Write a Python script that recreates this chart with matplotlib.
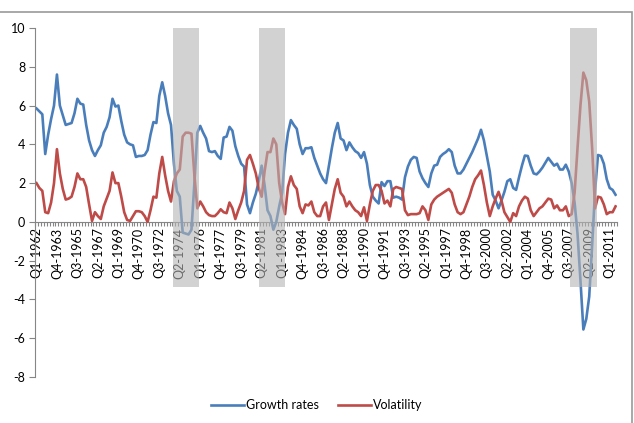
import matplotlib
matplotlib.use("Agg")
import matplotlib.pyplot as plt
from matplotlib.patches import Rectangle
from matplotlib.ticker import MultipleLocator, FixedLocator

plt.rcParams['font.family'] = ['Lato', 'DejaVu Sans']

# Quarters Q1-1962 ... Q3-2011
quarters = [f"Q{q}-{y}" for y in range(1962, 2012) for q in range(1, 5)][:199]

growth = [
    5.85, 5.7, 5.55, 3.5, 4.5, 5.3, 6.0, 7.6, 6.0, 5.5,
    5.0, 5.05, 5.1, 5.6, 6.35, 6.1, 6.05, 5.0, 4.2, 3.7,
    3.4, 3.7, 3.95, 4.6, 4.9, 5.4, 6.35, 5.95, 6.0, 5.2,
    4.5, 4.1, 4.0, 3.95, 3.35, 3.4, 3.4, 3.45, 3.7, 4.5,
    5.15, 5.1, 6.5, 7.2, 6.5, 5.6, 5.0, 3.0, 1.6, 1.3,
    -0.55, -0.6, -0.65, -0.4, 2.0, 4.6, 4.95, 4.6, 4.3, 3.65,
    3.6, 3.65, 3.4, 3.25, 4.35, 4.4, 4.9, 4.7, 3.9, 3.4,
    3.0, 2.85, 0.9, 0.45, 1.0, 1.45, 2.1, 2.9, 1.9, 0.6,
    0.3, -0.4, 0.0, 0.8, 1.5, 3.5, 4.6, 5.25, 5.0, 4.8,
    4.0, 3.5, 3.8, 3.8, 3.85, 3.3, 2.9, 2.5, 2.2, 2.0,
    2.9, 3.8, 4.6, 5.1, 4.3, 4.2, 3.7, 4.1, 3.85, 3.65,
    3.55, 3.3, 3.6, 3.0, 1.9, 1.3, 1.1, 0.95, 2.05, 1.85,
    2.1, 2.1, 1.25, 1.3, 1.25, 1.15, 2.3, 2.85, 3.2, 3.35,
    3.3, 2.6, 2.25, 2.0, 1.8, 2.5, 2.9, 2.95, 3.35, 3.5,
    3.6, 3.75, 3.6, 2.9, 2.5, 2.5, 2.7, 3.0, 3.3, 3.6,
    3.95, 4.3, 4.75, 4.2, 3.4, 2.6, 1.4, 1.1, 0.7, 1.1,
    1.55, 2.1, 2.2, 1.75, 1.65, 2.3, 2.9, 3.42, 3.4, 2.9,
    2.5, 2.45, 2.6, 2.8, 3.05, 3.3, 3.1, 2.9, 3.0, 2.7,
    2.7, 2.95, 2.6, 2.0, 1.0, -0.6, -3.0, -5.55, -5.0, -3.85,
    -1.2, 1.6, 3.45, 3.4, 3.0, 2.2, 1.75, 1.65, 1.4,
]

volatility = [
    2.0, 1.75, 1.6, 0.5, 0.45, 1.0, 2.0, 3.75, 2.5, 1.7,
    1.15, 1.2, 1.3, 1.8, 2.5, 2.2, 2.2, 1.8, 0.9, 0.05,
    0.5, 0.3, 0.15, 0.8, 1.2, 1.6, 2.55, 2.0, 2.0, 1.3,
    0.5, 0.1, 0.05, 0.3, 0.55, 0.55, 0.5, 0.3, 0.0, 0.6,
    1.3, 1.25, 2.5, 3.35, 2.4, 1.6, 1.05, 2.1, 2.5, 2.7,
    4.4, 4.6, 4.6, 4.55, 2.4, 0.7, 1.05, 0.8, 0.5, 0.35,
    0.3, 0.3, 0.45, 0.65, 0.5, 0.45, 1.0, 0.7, 0.15, 0.6,
    1.0, 1.6, 3.2, 3.45, 3.0, 2.5, 1.75, 1.3, 2.6, 3.6,
    3.6, 4.3, 4.0, 2.0, 1.0, 0.4, 1.8, 2.35, 1.9, 1.7,
    0.8, 0.45, 0.9, 0.85, 1.05, 0.5, 0.3, 0.3, 0.8, 1.0,
    0.1, 0.9, 1.7, 2.2, 1.5, 1.3, 0.8, 1.05, 0.8, 0.6,
    0.5, 0.3, 0.75, 0.05, 0.9, 1.6, 1.9, 1.9, 1.6, 0.95,
    1.1, 0.8, 1.7, 1.8, 1.75, 1.7, 0.6, 0.35, 0.4, 0.4,
    0.4, 0.45, 0.8, 0.6, 0.1, 0.9, 1.15, 1.3, 1.4, 1.5,
    1.6, 1.7, 1.5, 0.9, 0.5, 0.4, 0.5, 0.9, 1.3, 1.8,
    2.2, 2.4, 2.65, 1.9, 1.0, 0.3, 0.8, 1.2, 1.55, 1.1,
    0.5, 0.25, 0.0, 0.45, 0.3, 0.8, 1.1, 1.3, 1.2, 0.6,
    0.3, 0.5, 0.7, 0.8, 1.0, 1.2, 1.15, 0.7, 0.85, 0.6,
    0.6, 0.8, 0.3, 0.4, 1.5, 3.8, 6.0, 7.7, 7.3, 6.2,
    3.8, 0.7, 1.3, 1.25, 0.9, 0.4, 0.5, 0.5, 0.8,
]

# Shaded periods (in quarter index units) and their vertical extent
band_start = [46.6, 76.2, 182.6]
band_end = [55.5, 85.1, 191.5]
band_low, band_high = -3.35, 10

y_ticks = list(range(-8, 11, 2))
label_every = 7

fig = plt.figure(figsize=(6.34, 4.23), dpi=100)
ax = fig.add_axes([35 / 634, 46 / 423, 582 / 634, 349 / 423])

x = list(range(len(quarters)))
ax.plot(x, growth, color='#4A7EBB', lw=1.9, label='Growth rates', zorder=2,
        solid_joinstyle='round')
ax.plot(x, volatility, color='#BE4B48', lw=1.9, label='Volatility', zorder=2,
        solid_joinstyle='round')

for s, e in zip(band_start, band_end):
    ax.fill_between([s, e], band_low, band_high, color='#b4b4b4', alpha=0.6,
                    lw=0, zorder=3)

ax.set_xlim(-0.5, len(quarters) - 0.5)
ax.set_ylim(-8, 10)

for side in ['top', 'right']:
    ax.spines[side].set_visible(False)
ax.spines['left'].set_color('#868686')
ax.spines['bottom'].set_color('#868686')
ax.spines['bottom'].set_position(('data', 0))
ax.spines['bottom'].set_zorder(1)

ax.set_yticks(y_ticks)
ax.set_yticklabels([str(v) for v in y_ticks])
ax.tick_params(axis='y', direction='out', length=4, color='#868686',
               labelsize=9, pad=3)

major = x[::label_every]
ax.xaxis.set_major_locator(FixedLocator(major))
ax.set_xticklabels([quarters[i] for i in major], rotation=90, va='top',
                   ha='center')
ax.xaxis.set_minor_locator(FixedLocator([i - 0.5 for i in range(len(quarters) + 1)]))
ax.tick_params(axis='x', which='major', length=0, labelsize=9, pad=4)
ax.tick_params(axis='x', which='minor', direction='out', length=3,
               color='#868686', width=0.8)

fig.legend(loc='center', bbox_to_anchor=(0.5, 18 / 423), ncol=2, frameon=False,
           fontsize=9, handlelength=2.6, columnspacing=1.5, handletextpad=0.2)

# chart area border
fig.patches.append(Rectangle((-0.01, -0.01), 632 / 634 + 0.01, 1 - 12 / 423 + 0.01,
                             transform=fig.transFigure, fill=False,
                             edgecolor='#9a9a9a', lw=1.2))

fig.savefig('out.png', dpi=100)
